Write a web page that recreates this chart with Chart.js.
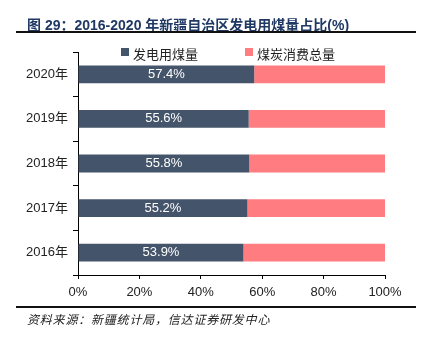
<!DOCTYPE html>
<html>
<head>
<meta charset="utf-8">
<script src="https://cdn.jsdelivr.net/npm/chart.js@4.4.1/dist/chart.umd.min.js"></script>
<style>
  body { margin: 0; width: 424px; height: 343px; background: #fff; position: relative; overflow: hidden;
         font-family: "Liberation Sans", Arial, "Noto Sans CJK SC", sans-serif; }
  #title { position: absolute; left: 27px; top: 14px; font-size: 14px; font-weight: bold; color: #1f3864; white-space: nowrap; }
  .rule { position: absolute; left: 16px; width: 400px; height: 2px; background: #111; }
  #legend { position: absolute; top: 44px; left: 0; font-size: 13px; color: #222; white-space: nowrap; }
  #legend span.box { position: absolute; top: 4px; width: 8px; height: 8px; }
  #legend span.txt { position: absolute; top: 0; }
  #source { position: absolute; left: 27px; top: 310px; font-size: 12px; font-style: italic; color: #222; letter-spacing: 0.8px; white-space: nowrap; }
  #wrap { position: absolute; left: 0; top: 0; width: 424px; height: 343px; }
</style>
</head>
<body>
<div id="wrap"><canvas id="myChart"></canvas></div>
<div id="title">图 29：2016-2020 年新疆自治区发电用煤量占比(%)</div>
<div class="rule" style="top:31px"></div>
<div id="legend"></div>
<div class="rule" style="top:306px"></div>
<div id="source">资料来源：新疆统计局，信达证券研发中心</div>
<script>
const years = ["2020年", "2019年", "2018年", "2017年", "2016年"];
const powerCoal = [57.4, 55.6, 55.8, 55.2, 53.9];
const restCoal = [42.6, 44.4, 44.2, 44.8, 46.1];
const seriesNames = ["发电用煤量", "煤炭消费总量"];
const xTicks = [0, 20, 40, 60, 80, 100];

const navy = "#44546a";
const pink = "#ff7c80";

// legend in html so it can sit level with the top of the axis
const legend = document.querySelector("#legend");
const legendPos = [121, 245];
const legendColors = [navy, pink];
for (let i = 0; i < seriesNames.length; i++) {
  const box = document.createElement("span");
  box.className = "box";
  box.style.left = legendPos[i] + "px";
  box.style.background = legendColors[i];
  const txt = document.createElement("span");
  txt.className = "txt";
  txt.style.left = (legendPos[i] + 12) + "px";
  txt.textContent = seriesNames[i];
  legend.appendChild(box);
  legend.appendChild(txt);
}

const valueLabels = {
  id: "valueLabels",
  afterDatasetsDraw(chart) {
    const ctx = chart.ctx;
    const meta = chart.getDatasetMeta(0);
    ctx.save();
    ctx.fillStyle = "#fff";
    ctx.font = '13px "Liberation Sans", Arial, sans-serif';
    ctx.textAlign = "center";
    ctx.textBaseline = "middle";
    meta.data.forEach((bar, i) => {
      ctx.fillText(powerCoal[i].toFixed(1) + "%", (bar.x + bar.base) / 2, bar.y);
    });
    ctx.restore();
  }
};

Chart.defaults.font.family = '"Liberation Sans", Arial, "Noto Sans CJK SC", sans-serif';
Chart.defaults.font.size = 13;
Chart.defaults.color = "#222";

new Chart(document.getElementById("myChart"), {
  type: "bar",
  data: {
    labels: years,
    datasets: [
      { label: seriesNames[0], data: powerCoal, backgroundColor: navy },
      { label: seriesNames[1], data: restCoal, backgroundColor: pink }
    ]
  },
  options: {
    indexAxis: "y",
    responsive: true,
    maintainAspectRatio: false,
    animation: false,
    layout: { padding: { top: 52, right: 39, bottom: 38, left: 0 } },
    datasets: { bar: { categoryPercentage: 1, barPercentage: 0.4 } },
    plugins: { legend: { display: false }, tooltip: { enabled: false } },
    scales: {
      x: {
        stacked: true,
        min: 0,
        max: 100,
        afterBuildTicks: (s) => { s.ticks = xTicks.map(v => ({ value: v })); },
        ticks: { callback: (v) => v + "%", padding: 6, maxRotation: 0 },
        grid: { drawOnChartArea: false, tickLength: 4, color: "#000" },
        border: { color: "#000" },
        afterFit: (s) => { s.height = 30; }
      },
      y: {
        stacked: true,
        ticks: { padding: 5 },
        grid: { drawOnChartArea: false, offset: true, tickLength: 5, color: "#000" },
        border: { color: "#000" },
        afterFit: (s) => { s.width = 78; }
      }
    }
  },
  plugins: [valueLabels]
});
</script>
</body>
</html>
